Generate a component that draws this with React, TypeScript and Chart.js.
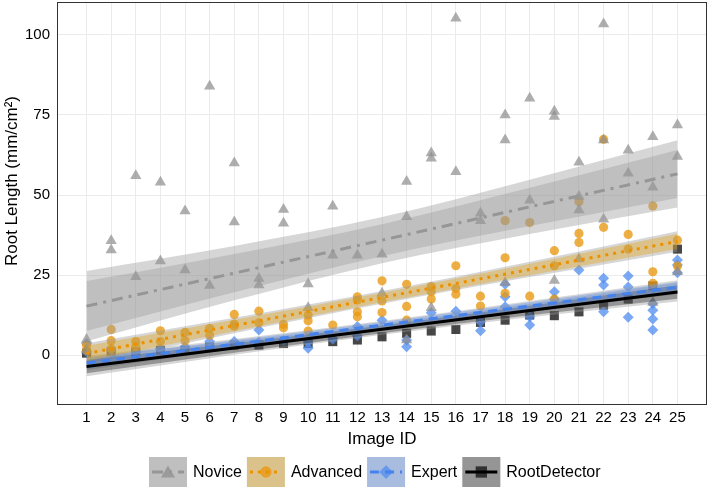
import React, { useEffect, useRef } from "react";
import { Chart, registerables } from "chart.js";

Chart.register(...registerables);

// ---------- data ----------
const imageIds = [1, 2, 3, 4, 5, 6, 7, 8, 9, 10, 11, 12, 13, 14, 15, 16, 17, 18, 19, 20, 21, 22, 23, 24, 25];
const yTickValues = [0, 25, 50, 75, 100];
const seriesNames = ["Novice", "Advanced", "Expert", "RootDetector"];
const xTitle = "Image ID";
const yTitle = "Root Length (mm/cm²)";

// values per image (index = image id - 1)
const noviceValues = [
  [4.9, 1.5], [35.7, 32.8], [56, 24.5], [54, 29.4], [45, 26.6],
  [84, 21.7], [60, 41.6], [23.9, 21.9], [45.5, 41.2], [22.2, 14.8],
  [46.5, 31.2], [31.2], [31.5, 19.3], [54.2, 43.2, 4.7], [63.1, 61.5, 14.8],
  [105.2, 57.3], [44.3, 42], [75, 67.2, 22.6], [80.2, 48.4], [76.2, 74.5, 23.3],
  [60.2, 49.5, 45.3, 30], [103.4, 67.2, 42.4], [64, 56.8], [68.2, 52.4, 16.4], [71.9, 62, 26],
];
const advancedValues = [
  [3.1, 1.5], [8, 4.5, 2], [4.2, 2.6], [7.6, 4.2], [7.1, 4.5],
  [8.3, 6.2], [12.7, 9.7, 9], [13.7, 10.1], [9.6, 8.5], [12.5, 10.7, 7.5],
  [9.4], [18.2, 17.2, 13.5, 12], [23.2, 16.9, 13.3], [22.1, 15.2, 10.9], [21.4, 19.8, 17.5],
  [27.9, 20.8, 19], [18.4, 15.3], [42, 30.4, 19.3], [41.4, 18.4], [32.6, 27.9, 17.5],
  [47.9, 38, 35.2], [67.4, 39.9], [37.7, 33.1], [46.6, 26, 22.4], [35.9, 27.8],
];
const expertValues = [
  [3.5, 1], [1.5], [1], [2], [2.6],
  [4.2], [4.2], [7.8, 4], [4.5], [2.1, 4],
  [5], [8.9, 6], [10.9], [4.7, 2.6], [13.2],
  [13.7], [10.4, 7.6], [22.1, 18.2, 15.1], [9.4, 12], [19.8, 17.4],
  [26.6], [24, 21.9, 13.5], [24.7, 21.3, 11.8], [16.1, 14, 11.3, 7.8], [29.7, 28.1, 25.7],
];
const rootDetectorValues = [
  [0.6], [1], [1], [1.5], [1.5],
  [2.5], [3.1], [3.1], [3.6], [3.6],
  [4.2], [4.7], [5.7], [6.8], [7.5],
  [8], [10.2], [10.9], [12.5], [12.3],
  [13.5], [15.6], [17.5], [21.6], [33.1],
];

// fitted lines and confidence ribbons read at these image ids
const fitX = [1, 7, 13, 19, 25];
const noviceFit = [15.3, 25.6, 35.9, 46.3, 56.6];
const noviceOuterHalf = [11, 8.5, 7.2, 8.5, 10.5];
const noviceInnerHalf = [7.8, 6, 5, 6, 7.5];
const advancedFit = [0.5, 9.25, 18.0, 26.75, 35.5];
const advancedOuterHalf = [3.2, 2.4, 2.0, 2.4, 3.2];
const advancedInnerHalf = [2.4, 1.8, 1.5, 1.8, 2.4];
const expertFit = [-2.5, 3.4, 9.35, 15.3, 21.2];
const expertOuterHalf = [2.2, 1.6, 1.3, 1.6, 2.2];
const expertInnerHalf = [1.6, 1.2, 1.0, 1.2, 1.6];
const rootDetectorFit = [-3.6, 2.2, 8.05, 13.9, 19.7];
const rootDetectorOuterHalf = [3.0, 2.1, 1.7, 2.1, 3.0];
const rootDetectorInnerHalf = [2.1, 1.5, 1.2, 1.5, 2.1];

// ---------- styles ----------
const FONT = '"Liberation Sans", Arial, Helvetica, sans-serif';
const OUTER_FILL = "rgba(153,153,153,0.4)";

const series = [
  {
    name: seriesNames[0], values: noviceValues, fit: noviceFit, outer: noviceOuterHalf, inner: noviceInnerHalf,
    pointStyle: "triangle", radius: 6.5, point: "rgba(140,140,140,0.7)", line: "rgb(150,150,150)",
    dash: [11, 6, 3, 6], innerFill: "rgba(150,150,150,0.35)",
  },
  {
    name: seriesNames[1], values: advancedValues, fit: advancedFit, outer: advancedOuterHalf, inner: advancedInnerHalf,
    pointStyle: "circle", radius: 4.6, point: "rgba(232,152,15,0.78)", line: "rgb(235,145,0)",
    dash: [3, 5], innerFill: "rgba(230,159,0,0.35)",
  },
  {
    name: seriesNames[2], values: expertValues, fit: expertFit, outer: expertOuterHalf, inner: expertInnerHalf,
    pointStyle: "rectRot", radius: 5.5, point: "rgba(80,140,240,0.75)", line: "rgb(70,130,235)",
    dash: [9, 6], innerFill: "rgba(100,149,237,0.4)",
  },
  {
    name: seriesNames[3], values: rootDetectorValues, fit: rootDetectorFit, outer: rootDetectorOuterHalf, inner: rootDetectorInnerHalf,
    pointStyle: "rect", radius: 6.4, point: "rgba(25,25,25,0.8)", line: "#000",
    dash: [], innerFill: "rgba(0,0,0,0.3)",
  },
];

function toPoints(values: number[][]) {
  return values.flatMap((vals, i) => vals.map((v) => ({ x: imageIds[i], y: v })));
}

function drawMarker(ctx: CanvasRenderingContext2D, style: string, x: number, y: number, r: number) {
  ctx.beginPath();
  if (style === "triangle") {
    for (let k = 0; k < 3; k++) {
      const a = (k * 2 * Math.PI) / 3;
      const px = x + Math.sin(a) * r;
      const py = y - Math.cos(a) * r;
      if (k === 0) ctx.moveTo(px, py);
      else ctx.lineTo(px, py);
    }
    ctx.closePath();
  } else if (style === "circle") {
    ctx.arc(x, y, r, 0, Math.PI * 2);
  } else if (style === "rectRot") {
    ctx.moveTo(x, y - r);
    ctx.lineTo(x + r, y);
    ctx.lineTo(x, y + r);
    ctx.lineTo(x - r, y);
    ctx.closePath();
  } else {
    const s = Math.SQRT1_2 * r;
    ctx.rect(x - s, y - s, 2 * s, 2 * s);
  }
  ctx.fill();
}

const framePlugin = {
  id: "frameAndLegend",
  afterDraw(chart: any) {
    const { ctx, chartArea: a } = chart;
    ctx.save();
    // panel border
    ctx.strokeStyle = "#333";
    ctx.lineWidth = 1;
    ctx.strokeRect(a.left + 0.5, a.top + 0.5, a.right - a.left - 1, a.bottom - a.top - 1);

    // y title
    ctx.save();
    ctx.translate(12, 181);
    ctx.rotate(-Math.PI / 2);
    ctx.font = `17px ${FONT}`;
    ctx.fillStyle = "#000";
    ctx.textAlign = "center";
    ctx.textBaseline = "middle";
    ctx.fillText(yTitle, 0, 0);
    ctx.restore();

    // legend
    const keyW = 38;
    const keyH = 30;
    const keyTop = 457;
    let x = 149;
    ctx.font = `16px ${FONT}`;
    ctx.textBaseline = "middle";
    ctx.textAlign = "left";
    series.forEach((s) => {
      ctx.fillStyle = OUTER_FILL;
      ctx.fillRect(x, keyTop, keyW, keyH);
      ctx.fillStyle = s.innerFill;
      ctx.fillRect(x, keyTop, keyW, keyH);
      const cy = keyTop + keyH / 2;
      ctx.fillStyle = s.point;
      drawMarker(ctx, s.pointStyle, x + keyW / 2, cy + (s.pointStyle === "triangle" ? 1.5 : 0), s.radius * 1.25);
      ctx.save();
      ctx.strokeStyle = s.line;
      ctx.lineWidth = 3;
      ctx.setLineDash(s.dash);
      ctx.beginPath();
      ctx.moveTo(x + 3, cy);
      ctx.lineTo(x + keyW - 3, cy);
      ctx.stroke();
      ctx.restore();
      ctx.fillStyle = "#000";
      ctx.fillText(s.name, x + keyW + 6, cy + 1);
      x += keyW + 6 + ctx.measureText(s.name).width + 5;
    });
    ctx.restore();
  },
};

export default function App() {
  const ref = useRef<HTMLCanvasElement | null>(null);

  useEffect(() => {
    document.body.style.margin = "0";
    const canvas = ref.current;
    if (!canvas) return;

    const datasets: any[] = [];
    series.forEach((s) => {
      datasets.push({
        type: "scatter",
        label: s.name,
        data: toPoints(s.values),
        pointStyle: s.pointStyle,
        pointRadius: s.radius,
        backgroundColor: s.point,
        borderColor: "transparent",
        borderWidth: 0,
        order: 100,
      });
    });
    const addRibbon = (s: any, half: number[], color: string, order: number) => {
      const hiIdx = datasets.length;
      datasets.push({
        type: "line",
        data: fitX.map((x, i) => ({ x, y: s.fit[i] + half[i] })),
        borderColor: "transparent",
        borderWidth: 0,
        pointRadius: 0,
        backgroundColor: color,
        fill: hiIdx + 1,
        cubicInterpolationMode: "monotone",
        order,
      });
      datasets.push({
        type: "line",
        data: fitX.map((x, i) => ({ x, y: s.fit[i] - half[i] })),
        borderColor: "transparent",
        borderWidth: 0,
        pointRadius: 0,
        fill: false,
        cubicInterpolationMode: "monotone",
        order,
      });
    };
    series.forEach((s) => addRibbon(s, s.outer, OUTER_FILL, 50));
    series.forEach((s) => addRibbon(s, s.inner, s.innerFill, 40));
    series.forEach((s, k) => {
      datasets.push({
        type: "line",
        data: fitX.map((x, i) => ({ x, y: s.fit[i] })),
        borderColor: s.line,
        borderWidth: 3,
        borderDash: s.dash,
        borderCapStyle: "butt",
        pointRadius: 0,
        fill: false,
        order: 10 - k,
      });
    });

    const chart = new Chart(canvas, {
      type: "scatter",
      data: { datasets },
      options: {
        animation: false,
        responsive: false,
        devicePixelRatio: 1,
        events: [],
        layout: { autoPadding: false, padding: { top: 2, right: 2, left: 0, bottom: 37 } },
        plugins: { legend: { display: false }, tooltip: { enabled: false } },
        scales: {
          x: {
            type: "linear",
            min: -0.2,
            max: 26.2,
            afterBuildTicks: (scale: any) => {
              scale.ticks = imageIds.map((v) => ({ value: v }));
            },
            afterFit: (scale: any) => {
              scale.height = 45;
              scale.paddingLeft = 0;
              scale.paddingRight = 0;
            },
            grid: { color: "#ebebeb", lineWidth: 1, drawTicks: false },
            border: { display: false },
            ticks: {
              autoSkip: false,
              maxRotation: 0,
              padding: 4,
              color: "#000",
              font: { family: FONT, size: 15 },
            },
            title: {
              display: true,
              text: xTitle,
              color: "#000",
              padding: 0,
              font: { family: FONT, size: 17 },
            },
          },
          y: {
            type: "linear",
            min: -15.6,
            max: 110.3,
            afterBuildTicks: (scale: any) => {
              scale.ticks = yTickValues.map((v) => ({ value: v }));
            },
            afterFit: (scale: any) => {
              scale.width = 57;
              scale.paddingTop = 0;
              scale.paddingBottom = 0;
            },
            grid: { color: "#ebebeb", lineWidth: 1, drawTicks: false },
            border: { display: false },
            ticks: {
              padding: 7,
              color: "#000",
              font: { family: FONT, size: 15 },
            },
          },
        },
      },
      plugins: [framePlugin],
    });

    return () => chart.destroy();
  }, []);

  return <canvas ref={ref} width={709} height={487} style={{ display: "block" }} />;
}
